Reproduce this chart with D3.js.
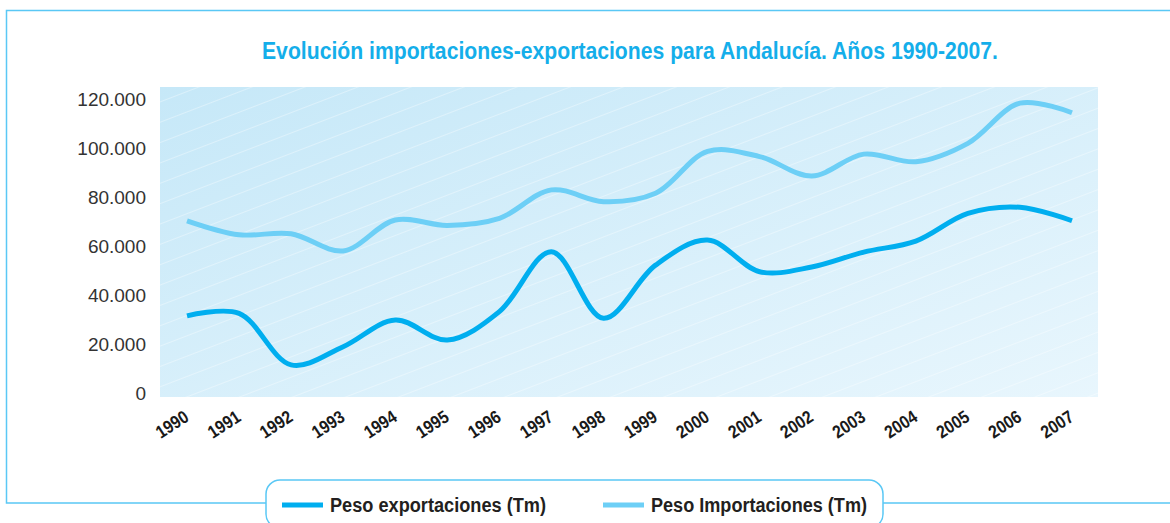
<!DOCTYPE html>
<html>
<head>
<meta charset="utf-8">
<script src="https://cdn.jsdelivr.net/npm/d3@7"></script>
<style>
  body { margin: 0; background: #fff; }
  svg { display: block; }
</style>
</head>
<body>
<div id="chart"></div>
<script>
// data (Tm)
var years = ["1990", "1991", "1992", "1993", "1994", "1995", "1996", "1997", "1998",
             "1999", "2000", "2001", "2002", "2003", "2004", "2005", "2006", "2007"];
var exportaciones = [31500, 32500, 11500, 18900, 29800, 21600, 33200, 57700, 30500,
                     52200, 62400, 49500, 51400, 57500, 62000, 73300, 75800, 70300];
var importaciones = [70300, 64600, 65000, 58000, 70600, 68400, 71300, 82900, 78100,
                     81500, 98600, 96500, 88600, 97500, 94400, 101900, 118300, 114400];
var yTicks = [0, 20000, 40000, 60000, 80000, 100000, 120000];
var seriesNames = ["Peso exportaciones (Tm)", "Peso Importaciones (Tm)"];

function init() {
    var w = 1170;
    var h = 523;
    var frameColor = "#5ac8f5";
    var colExp = "#00aeef";
    var colImp = "#6dcff6";
    // no condensed face installed, so bold text is squeezed with textLength
    var boldFont = "'Liberation Sans', Arial, sans-serif";

    var svg = d3.select("#chart")
                .append("svg")
                .attr("width", w)
                .attr("height", h);

    var defs = svg.append("defs");
    var grad = defs.append("linearGradient")
                   .attr("id", "bg")
                   .attr("x1", "0%").attr("y1", "0%")
                   .attr("x2", "100%").attr("y2", "100%");
    grad.append("stop").attr("offset", "0%").attr("stop-color", "#c6e8f8");
    grad.append("stop").attr("offset", "100%").attr("stop-color", "#e8f6fd");

    var pat = defs.append("pattern")
                  .attr("id", "stripes")
                  .attr("patternUnits", "userSpaceOnUse")
                  .attr("width", 40).attr("height", 19)
                  .attr("patternTransform", "rotate(-21)");
    pat.append("line")
       .attr("x1", 0).attr("x2", 40)
       .attr("y1", 0.5).attr("y2", 0.5)
       .attr("stroke", "#ffffff")
       .attr("stroke-opacity", 0.35)
       .attr("stroke-width", 1);

    var x = d3.scalePoint()
              .domain(years)
              .range([187, 1072]);

    var y = d3.scaleLinear()
              .domain([0, 120000])
              .range([393, 99]);

    // plot background
    svg.append("rect")
       .attr("x", 160).attr("y", 87)
       .attr("width", 938).attr("height", 310)
       .style("fill", "url(#bg)");
    svg.append("rect")
       .attr("x", 160).attr("y", 87)
       .attr("width", 938).attr("height", 310)
       .style("fill", "url(#stripes)");

    // frame
    svg.append("path")
       .attr("d", "M1170,10.5 H6.5 V503 H266 M883,503 H1170")
       .attr("fill", "none")
       .attr("stroke", frameColor)
       .attr("stroke-width", 1.5);

    // title
    svg.append("text")
       .attr("x", 262)
       .attr("y", 59)
       .attr("textLength", 736)
       .attr("lengthAdjust", "spacingAndGlyphs")
       .style("font-family", boldFont)
       .style("font-weight", "bold")
       .style("font-size", "23px")
       .style("fill", "#14aeea")
       .text("Evolución importaciones-exportaciones para Andalucía. Años 1990-2007.");

    // y axis labels
    var yAxis = d3.axisLeft(y)
                  .tickValues(yTicks)
                  .tickSize(0)
                  .tickPadding(0)
                  .tickFormat(function(d) { return d3.format(",")(d).replace(/,/g, "."); });
    var gy = svg.append("g")
                .attr("transform", "translate(146,0)")
                .call(yAxis);
    gy.select(".domain").remove();
    gy.selectAll("text")
      .style("font-family", "'Liberation Sans', Arial, sans-serif")
      .style("font-size", "19px")
      .style("fill", "#333333");

    // x axis labels
    var xAxis = d3.axisBottom(x)
                  .tickSize(0)
                  .tickPadding(0);
    var gx = svg.append("g")
                .call(xAxis);
    gx.select(".domain").remove();
    gx.selectAll(".tick")
      .attr("transform", function(d) { return "translate(" + (x(d) + 3) + ",420)"; });
    gx.selectAll("text")
      .attr("y", 0)
      .attr("dy", 0)
      .attr("transform", "rotate(-33)")
      .attr("text-anchor", "end")
      .attr("textLength", 35)
      .attr("lengthAdjust", "spacingAndGlyphs")
      .style("font-family", boldFont)
      .style("font-weight", "bold")
      .style("font-size", "18px")
      .style("fill", "#1a1a1a");

    var line = d3.line()
                 .x(function(d, i) { return x(years[i]); })
                 .y(function(d) { return y(d); })
                 .curve(d3.curveCatmullRom.alpha(0.5));

    svg.append("path")
       .datum(importaciones)
       .attr("d", line)
       .attr("fill", "none")
       .attr("stroke", colImp)
       .attr("stroke-width", 5);

    svg.append("path")
       .datum(exportaciones)
       .attr("d", line)
       .attr("fill", "none")
       .attr("stroke", colExp)
       .attr("stroke-width", 5);

    // legend box
    svg.append("rect")
       .attr("x", 266).attr("y", 480)
       .attr("width", 617).attr("height", 48)
       .attr("rx", 14).attr("ry", 14)
       .attr("fill", "#fff")
       .attr("stroke", frameColor)
       .attr("stroke-width", 1.5);

    var legendX = [282, 603];
    var legendCol = [colExp, colImp];
    var leg = svg.selectAll(".leg")
                 .data(seriesNames)
                 .enter()
                 .append("g")
                 .attr("class", "leg")
                 .attr("transform", function(d, i) { return "translate(" + legendX[i] + ",505)"; });
    leg.append("rect")
       .attr("x", 0).attr("y", -2.5)
       .attr("width", 41).attr("height", 5)
       .attr("fill", function(d, i) { return legendCol[i]; });
    leg.append("text")
       .attr("x", 48)
       .attr("y", 6.5)
       .attr("textLength", 216)
       .attr("lengthAdjust", "spacingAndGlyphs")
       .style("font-family", boldFont)
       .style("font-weight", "bold")
       .style("font-size", "20px")
       .style("fill", "#231f20")
       .text(function(d) { return d; });
}

window.onload = init;
</script>
</body>
</html>
